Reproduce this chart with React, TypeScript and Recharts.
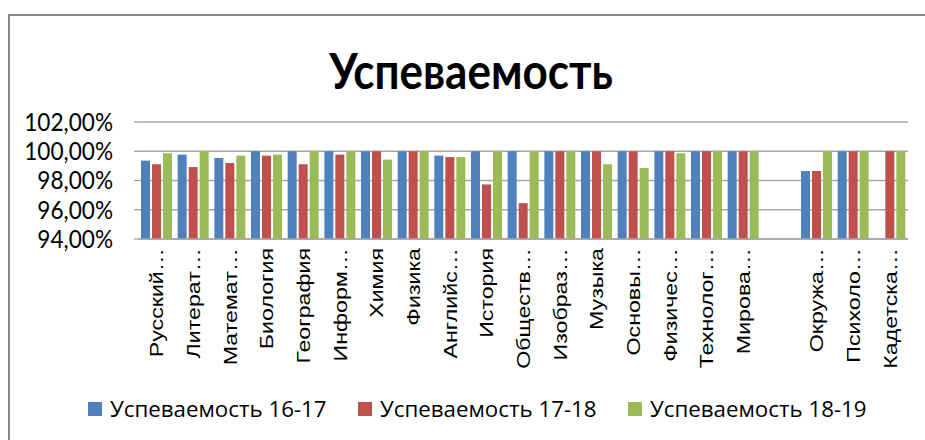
import React from 'react';
import { BarChart, Bar, XAxis, YAxis, CartesianGrid } from 'recharts';

const subjects = [
  'Русский…', 'Литерат…', 'Математ…', 'Биология', 'География', 'Информ…', 'Химия',
  'Физика', 'Английс…', 'История', 'Обществ…', 'Изобраз…', 'Музыка', 'Основы…',
  'Физичес…', 'Технолог…', 'Мирова…', ' ', 'Окружа…', 'Психоло…', 'Кадетска…',
];
const y1617: (number | null)[] = [
  99.36, 99.77, 99.54, 100, 100, 100, 100, 100, 99.7, 100, 100, 100, 100, 100,
  100, 100, 100, null, 98.65, 100, null,
];
const y1718: (number | null)[] = [
  99.11, 98.92, 99.2, 99.7, 99.11, 99.77, 100, 100, 99.6, 97.73, 96.45, 100, 100, 100,
  100, 100, 100, null, 98.65, 100, 100,
];
const y1819: (number | null)[] = [
  99.86, 100, 99.7, 99.77, 100, 100, 99.43, 100, 99.6, 100, 100, 100, 99.11, 98.86,
  99.86, 100, 100, null, 100, 100, 100,
];
const yTicks = [94, 96, 98, 100, 102];
const seriesNames = ['Успеваемость 16-17', 'Успеваемость 17-18', 'Успеваемость 18-19'];
const seriesKeys = ['a', 'b', 'c'];
const seriesColors = ['#4F81BD', '#C0504D', '#9BBB59'];
const title = 'Успеваемость';

const data = subjects.map((name, i) => ({ name, a: y1617[i], b: y1718[i], c: y1819[i] }));

const fmt = (v: number) => v.toFixed(2).replace('.', ',') + '%';

const YTick = (props: any) => {
  const { x, y, payload } = props;
  return (
    <g transform={`translate(${x},${y}) scale(1,1.1)`}>
      <text x={0} y={0} dy="0.36em" textAnchor="end" fontFamily="Lato, sans-serif" fontSize={22.6} fill="#000">
        {fmt(payload.value)}
      </text>
    </g>
  );
};

const XTick = (props: any) => {
  const { x, y, payload } = props;
  return (
    <g transform={`translate(${x},${y + 9}) rotate(-90) scale(1.22,1)`}>
      <text x={0} y={0} dy="0.36em" textAnchor="end" fontFamily="Liberation Sans, Arial, sans-serif" fontSize={19} fill="#000">
        {payload.value}
      </text>
    </g>
  );
};

export default function App() {
  return (
    <div style={{ position: 'fixed', left: 0, top: 0, width: 925, height: 440, overflow: 'hidden', background: '#fff' }}>
      <style>{'html,body{overflow:hidden}'}</style>
      <div style={{ position: 'absolute', left: 8, top: 14, width: 917, height: 2, background: '#878787' }} />
      <div style={{ position: 'absolute', left: 8, top: 14, width: 2, height: 426, background: '#878787' }} />
      <div style={{ position: 'absolute', left: 8, top: 8, width: 917, height: 432 }}>
        <div style={{ position: 'absolute', left: 0, width: 926, top: 35, textAlign: 'center', fontFamily: 'Lato, sans-serif', fontWeight: 700, fontSize: 44, lineHeight: '54px', transform: 'scaleY(1.12)', color: '#000' }}>
          {title}
        </div>
        <div style={{ position: 'absolute', left: 0, top: 0 }}>
          <BarChart width={917} height={432} data={data} margin={{ top: 114, right: 17, left: 0, bottom: 71 }} barCategoryGap={3} barGap={2}>
            <CartesianGrid horizontal vertical={false} stroke="#a6a6a6" strokeWidth={1.5} />
            <XAxis dataKey="name" height={130} interval={0} tickLine={false} tickSize={0} tickMargin={0} axisLine={{ stroke: '#a6a6a6', strokeWidth: 1.5 }} tick={<XTick />} />
            <YAxis width={130} domain={[94, 102]} ticks={yTicks} interval={0} axisLine={false} tickLine={{ stroke: '#868686' }} tickSize={4} tickMargin={21} tick={<YTick />} />
            {seriesKeys.map((k, i) => (
              <Bar key={k} dataKey={k} name={seriesNames[i]} fill={seriesColors[i]} isAnimationActive={false} />
            ))}
          </BarChart>
        </div>
        <div style={{ position: 'absolute', left: 80, top: 386, display: 'flex', fontFamily: 'Open Sans, sans-serif', fontSize: 22.3, color: '#000' }}>
          {seriesNames.map((n, i) => (
            <div key={n} style={{ width: 270, display: 'flex', alignItems: 'center' }}>
              <span style={{ display: 'inline-block', width: 14, height: 14, background: seriesColors[i], marginRight: 8 }} />
              <span style={{ lineHeight: '30px' }}>{n}</span>
            </div>
          ))}
        </div>
      </div>
    </div>
  );
}
